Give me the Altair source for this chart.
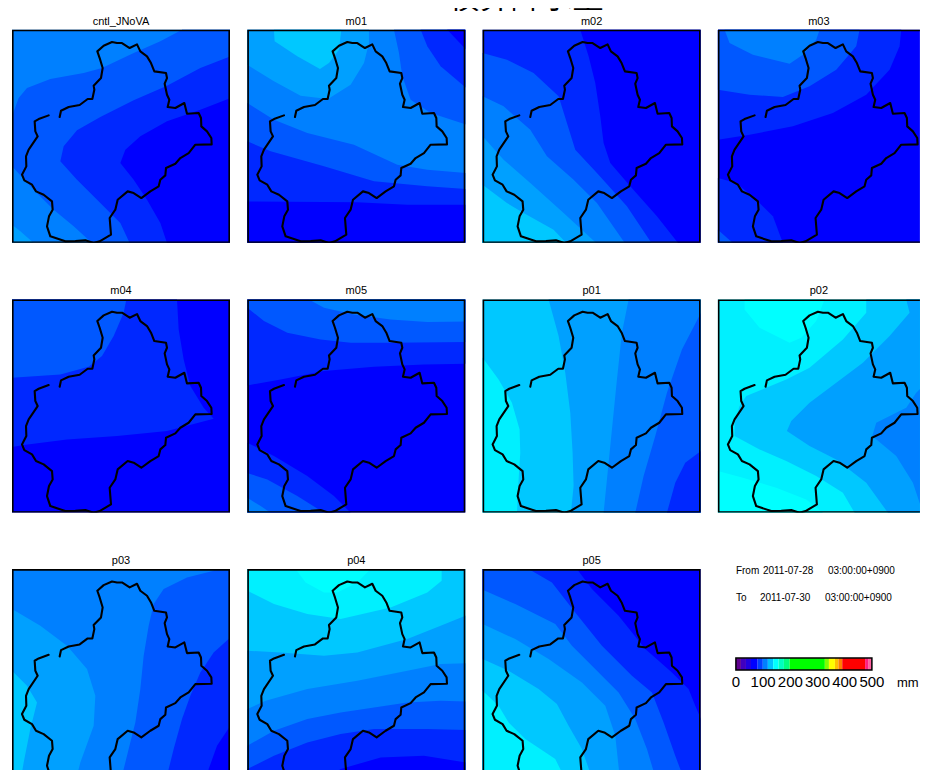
import altair as alt
import pandas as pd

LEVEL_COLORS = ["#0000ff", "#0028ff", "#0058ff", "#0080ff", "#00a0ff", "#00c8ff", "#00f0ff", "#00ffff"]
LEVELS = list(range(8))

# Catchment outline (origin of that crop below)
OUTLINE_ORIGIN = (35, 60)
OUTLINE = [(178,322),(182,303),(205,292),(238,286),(262,268),(276,268),(282,240),(280,228),(302,205),(307,175),
           (298,145),(291,125),(310,108),(335,97),(350,100),(365,100),(388,115),(410,104),(420,125),(440,140),
           (452,160),(462,185),(497,190),(500,205),(493,222),(500,255),(507,270),(502,292),(525,295),(552,280),
           (560,312),(595,310),(602,325),(603,350),(620,365),(633,385),(634,404),(585,405),(565,430),(540,445),
           (525,462),(497,475),(495,497),(480,510),(475,530),(450,545),(423,565),(400,550),(382,545),(352,570),
           (345,600),(328,625),(330,650),(332,675),(298,695),(280,700),(255,692),(225,694),(195,695),(150,680),
           (140,650),(146,620),(157,600),(155,575),(130,555),(107,545),(95,525),(72,512),(65,495),(78,470),
           (77,440),(85,420),(112,380),(105,365),(103,335),(115,328),(145,317)]
FRAME = [(0,0),(654,0),(654,640),(0,640)]

CNTL = dict(origin=(35,60), base=3, bands=[
    (2, [(0,320),(35,320),(55,265),(80,235),(150,208),(250,190),(305,175),(400,130),(480,95),(545,60),(545,0),(760,0),(760,760),(275,760),(275,700),(220,650),(160,600),(100,540),(35,470),(0,470)]),
    (1, [(690,140),(600,175),(500,228),(400,272),(300,322),(230,362),(190,410),(180,455),(230,510),(300,580),(360,640),(388,700),(388,760),(760,760),(760,140)]),
    (0, [(690,265),(600,300),(500,335),(420,380),(375,420),(360,460),(400,510),(440,570),(480,640),(500,700),(500,760),(760,760),(760,265)]),
    (4, [(0,645),(35,645),(60,665),(100,700),(100,760),(0,760)]),
])
M01 = dict(origin=(20,60), base=3, bands=[
    (4, [(0,165),(20,165),(100,215),(180,258),(262,268),(330,225),(370,160),(385,100),(385,0),(0,0)]),
    (5, [(100,0),(100,60),(102,95),(170,140),(238,178),(265,160),(295,120),(302,60),(302,0)]),
    (2, [(0,280),(20,280),(100,330),(200,370),(340,405),(470,465),(560,480),(677,490),(760,490),(760,760),(0,760)]),
    (1, [(0,395),(20,395),(90,425),(250,470),(400,515),(560,530),(677,538),(760,538),(760,760),(0,760)]),
    (0, [(0,575),(350,578),(500,585),(760,585),(760,760),(0,760)]),
    (2, [(460,0),(460,60),(475,130),(485,200),(510,270),(570,310),(677,345),(760,345),(760,0)]),
    (1, [(540,0),(540,60),(560,110),(600,170),(677,235),(760,235),(760,0)]),
    (0, [(620,0),(620,60),(677,120),(760,120),(760,0)]),
])
M02 = dict(origin=(157,90), base=1, bands=[
    (0, [(450,0),(450,90),(475,170),(495,250),(510,350),(520,430),(540,490),(600,560),(680,650),(745,732),(745,800),(900,800),(900,0)]),
    (2, [(100,160),(157,160),(230,180),(310,220),(385,290),(410,370),(435,450),(500,520),(590,620),(665,732),(665,800),(100,800)]),
    (3, [(100,290),(157,290),(220,320),(300,390),(350,470),(430,540),(500,610),(585,732),(585,800),(100,800)]),
    (4, [(100,410),(157,410),(220,480),(300,550),(400,640),(500,732),(500,800),(100,800)]),
    (5, [(100,555),(157,555),(230,610),(280,640),(370,690),(410,732),(410,800),(100,800)]),
    (6, [(100,720),(157,720),(185,732),(185,800),(100,800)]),
])
M03 = dict(origin=(25,60), base=0, bands=[
    (1, [(0,390),(25,390),(120,375),(250,350),(370,310),(470,255),(540,180),(570,110),(575,60),(575,0),(0,0)]),
    (2, [(0,240),(25,240),(120,255),(220,262),(300,230),(380,180),(440,110),(450,60),(450,0),(0,0)]),
    (3, [(45,0),(45,60),(60,100),(130,135),(240,162),(280,135),(320,90),(330,60),(330,0)]),
    (1, [(0,505),(25,505),(80,520),(140,570),(190,620),(220,700),(220,760),(0,760)]),
    (2, [(0,660),(25,660),(70,700),(70,760),(0,760)]),
])
M04 = dict(origin=(35,60), base=0, bands=[
    (1, [(0,503),(35,503),(70,497),(200,480),(350,470),(500,455),(640,418),(610,385),(570,320),(550,240),(535,150),(530,60),(530,0),(0,0)]),
    (2, [(0,295),(35,295),(180,285),(265,262),(305,230),(340,170),(370,100),(378,60),(378,0),(0,0)]),
])
M05 = dict(origin=(20,60), base=0, bands=[
    (1, [(0,318),(20,318),(120,300),(250,275),(400,262),(550,255),(760,252),(760,0),(0,0)]),
    (2, [(0,85),(20,85),(70,125),(140,160),(240,180),(330,190),(450,190),(760,187),(760,0),(0,0)]),
    (3, [(205,0),(205,60),(250,85),(340,105),(450,120),(560,128),(760,125),(760,0)]),
    (1, [(0,490),(20,490),(100,530),(200,590),(280,650),(330,700),(330,760),(0,760)]),
    (2, [(0,575),(80,600),(170,650),(250,700),(250,760),(0,760)]),
    (3, [(0,655),(20,655),(60,680),(90,700),(90,760),(0,760)]),
])
P01 = dict(origin=(22,60), base=5, bands=[
    (6, [(0,235),(22,235),(70,300),(110,370),(133,450),(135,520),(130,600),(125,700),(125,760),(0,760)]),
    (4, [(220,0),(220,60),(250,170),(270,280),(285,400),(292,520),(295,620),(287,700),(287,760),(760,760),(760,0)]),
    (3, [(460,0),(460,60),(440,160),(425,300),(410,450),(395,600),(385,700),(385,760),(760,760),(760,0)]),
    (2, [(760,100),(677,100),(620,210),(575,340),(540,470),(505,590),(480,700),(480,760),(760,760)]),
    (1, [(760,515),(677,515),(630,550),(600,610),(575,700),(575,760),(760,760)]),
])
P02 = dict(origin=(25,60), base=6, bands=[
    (7, [(100,0),(105,60),(105,90),(150,145),(240,190),(275,175),(320,125),(345,60),(345,0)]),
    (7, [(0,575),(25,575),(100,595),(200,625),(290,660),(340,700),(340,760),(0,760)]),
    (5, [(470,0),(470,60),(470,100),(400,180),(300,265),(230,300),(110,350),(90,380),(75,430),(75,470),(150,510),(230,545),(320,590),(400,640),(435,700),(435,760),(760,760),(760,0)]),
    (4, [(590,0),(590,60),(600,100),(540,170),(460,250),(380,310),(300,370),(245,425),(232,455),(300,500),(380,540),(470,610),(535,700),(535,760),(760,760),(760,0)]),
    (3, [(760,240),(680,280),(620,340),(590,385),(500,430),(488,470),(560,530),(610,610),(640,700),(640,760),(760,760)]),
])
P03 = dict(origin=(35,60), base=3, bands=[
    (4, [(0,180),(35,180),(120,230),(200,290),(260,360),(285,440),(280,530),(240,640),(225,700),(225,800),(0,800)]),
    (5, [(0,365),(35,365),(80,410),(110,460),(90,540),(70,640),(60,700),(60,800),(0,800)]),
    (2, [(640,0),(640,65),(560,85),(490,120),(460,165),(445,230),(430,320),(420,420),(405,520),(385,600),(360,700),(360,800),(800,800),(800,0)]),
    (1, [(800,265),(690,265),(640,310),(600,370),(570,440),(545,510),(520,600),(495,700),(495,800),(800,800)]),
    (0, [(800,530),(690,530),(650,590),(625,660),(615,720),(615,800),(800,800)]),
])
P04 = dict(origin=(20,60), base=5, bands=[
    (6, [(0,125),(20,125),(100,165),(200,195),(300,210),(450,175),(560,130),(603,95),(603,60),(603,0),(0,0)]),
    (7, [(165,0),(165,60),(195,100),(250,130),(290,130),(350,100),(390,60),(390,0)]),
    (4, [(0,305),(20,305),(120,310),(250,320),(350,310),(500,270),(600,230),(760,165),(760,800),(0,800)]),
    (3, [(0,480),(20,480),(75,455),(200,420),(350,395),(500,365),(600,345),(760,340),(760,800),(0,800)]),
    (2, [(0,590),(20,590),(100,545),(200,510),(300,490),(400,475),(500,460),(600,455),(760,460),(760,800),(0,800)]),
    (1, [(0,660),(20,660),(100,620),(200,580),(300,555),(400,540),(560,540),(760,545),(760,800),(0,800)]),
    (0, [(300,660),(420,625),(550,620),(677,640),(760,640),(760,800),(230,800),(250,690)]),
])
P05 = dict(origin=(22,60), base=0, bands=[
    (1, [(305,0),(305,60),(350,120),(430,200),(510,300),(590,370),(640,420),(660,470),(677,510),(760,540),(760,800),(0,800),(0,0)]),
    (2, [(160,0),(160,60),(230,100),(300,190),(380,290),(470,380),(530,430),(565,520),(600,620),(630,700),(640,800),(0,800),(0,0)]),
    (3, [(0,122),(22,122),(120,165),(240,225),(290,290),(350,350),(430,430),(480,510),(515,600),(545,700),(550,800),(0,800)]),
    (4, [(0,225),(22,225),(120,270),(220,330),(320,400),(390,470),(420,560),(435,700),(440,800),(0,800)]),
    (5, [(0,330),(22,330),(100,365),(190,420),(245,465),(280,530),(320,600),(350,687),(355,800),(0,800)]),
    (6, [(0,425),(22,425),(70,470),(100,520),(150,570),(240,630),(265,680),(275,800),(0,800)]),
])

PANEL_NAMES = ["cntl_JNoVA", "m01", "m02", "m03", "m04", "m05", "p01", "p02", "p03", "p04", "p05"]
PANEL_FIELDS = [CNTL, M01, M02, M03, M04, M05, P01, P02, P03, P04, P05]

BAR_EDGES = [0, 18.5, 37, 55.5, 80, 99, 117.5, 137, 157, 176.5, 197.5, 327, 342, 364, 377, 391, 475, 488, 500]
BAR_COLORS = ["#600090", "#4000c0", "#2000e0", "#0000ff", "#0040ff", "#0080ff", "#00c0ff", "#00ffff", "#00ffc0",
              "#00ff80", "#00ff00", "#80ff00", "#ffff00", "#ffc000", "#ff8000", "#ff0000", "#ff2080", "#ff60a0"]
BAR_TICKS = [0, 100, 200, 300, 400, 500]
TIME_TEXT = [("From", 18, 5), ("2011-07-28", 45, 5), ("03:00:00+0900", 110, 5),
             ("To", 18, 32), ("2011-07-30", 42, 32), ("03:00:00+0900", 107, 32)]
PAGE_TITLE = "積算降水量"

COL_WIDTHS = [218, 218, 218, 202]
ROW_HEIGHTS = [213, 213, 201]
PROJ = dict(type="identity", scale=1/3, translate=[0, 0])
FONT = "Liberation Sans"


def ring(points, origin):
    pts = [[x - origin[0], y - origin[1]] for x, y in points]
    return pts + [pts[0]]


def feature(level, points, origin):
    return {"type": "Feature", "properties": {"level": level},
            "geometry": {"type": "Polygon", "coordinates": [ring(points, origin)]}}


outline_feature = {"type": "Feature", "properties": {},
                   "geometry": {"type": "LineString",
                                "coordinates": [[x - OUTLINE_ORIGIN[0], y - OUTLINE_ORIGIN[1]] for x, y in OUTLINE]}}
frame_feature = {"type": "Feature", "properties": {},
                 "geometry": {"type": "Polygon", "coordinates": [ring(FRAME, (0, 0))]}}


def panel(name, field, w, h):
    cover = [(-50, -50), (900, -50), (900, 900), (-50, 900)]
    feats = [feature(field["base"], cover, (0, 0))]
    feats += [feature(lv, pts, field["origin"]) for lv, pts in field["bands"]]
    fills = alt.Chart(alt.Data(values=feats)).mark_geoshape(filled=True, strokeWidth=0, clip=True).encode(
        color=alt.Color("properties.level:O", legend=None,
                        scale=alt.Scale(domain=LEVELS, range=LEVEL_COLORS)))
    line = alt.Chart(alt.Data(values=[outline_feature])).mark_geoshape(
        filled=False, stroke="black", strokeWidth=2.1, strokeJoin="round", strokeCap="round", clip=True)
    frame = alt.Chart(alt.Data(values=[frame_feature])).mark_geoshape(
        filled=False, stroke="black", strokeWidth=3.2, clip=True)
    return alt.layer(fills, line, frame).project(**PROJ).properties(
        width=w, height=h,
        title=alt.TitleParams(name, fontSize=11, font=FONT, fontWeight="normal", offset=3, color="black"),
        view=alt.ViewConfig(stroke=None))


def piece(text, x, y, size, align="left"):
    return alt.Chart(pd.DataFrame({"t": [text]})).mark_text(
        align=align, baseline="alphabetic", fontSize=size, font=FONT, color="black"
    ).encode(x=alt.value(x), y=alt.value(y), text="t:N")


bar_scale = alt.Scale(domain=[-66.2, 676.5], nice=False, zero=False)
bar_df = pd.DataFrame({"a": BAR_EDGES[:-1], "b": BAR_EDGES[1:], "c": BAR_COLORS})
bar = alt.Chart(bar_df).mark_rect().encode(
    x=alt.X("a:Q", scale=bar_scale, axis=None), x2="b:Q",
    y=alt.value(89), y2=alt.value(101),
    color=alt.Color("c:N", scale=None, legend=None))
bar_box = alt.Chart(pd.DataFrame({"a": [BAR_EDGES[0]], "b": [BAR_EDGES[-1]]})).mark_rect(
    fillOpacity=0, stroke="black", strokeWidth=1.5).encode(
    x=alt.X("a:Q", scale=bar_scale, axis=None), x2="b:Q", y=alt.value(89), y2=alt.value(101))
bar_labels = alt.Chart(pd.DataFrame({"v": BAR_TICKS})).mark_text(
    baseline="alphabetic", fontSize=15, font=FONT, color="black").encode(
    x=alt.X("v:Q", scale=bar_scale, axis=None), y=alt.value(118), text="v:N")
info = alt.layer(bar, bar_box, bar_labels, piece("mm", 179, 118, 13),
                 *[piece(t, x, y, 10) for t, x, y in TIME_TEXT]).properties(
    width=COL_WIDTHS[3], height=ROW_HEIGHTS[2], view=alt.ViewConfig(stroke=None))

cells = [panel(n, f, COL_WIDTHS[i % 4], ROW_HEIGHTS[i // 4])
         for i, (n, f) in enumerate(zip(PANEL_NAMES, PANEL_FIELDS))]
grid = alt.concat(*cells, info, columns=4, spacing={"row": 42.7, "column": 17.3})

strip = alt.Chart(pd.DataFrame({"t": [PAGE_TITLE]})).mark_text(
    clip=True, align="center", baseline="alphabetic", fontSize=31, font="Noto Sans CJK JP", color="black"
).encode(x=alt.value(514), y=alt.value(0), text="t:N").properties(
    width=900, height=3, view=alt.ViewConfig(stroke=None))

chart = alt.vconcat(strip, grid, spacing=4.7).properties(
    padding={"left": 4, "top": 0, "right": 0, "bottom": 0}
).configure(background="white")

chart.save("out.html", embed_options={"renderer": "svg", "actions": False})
